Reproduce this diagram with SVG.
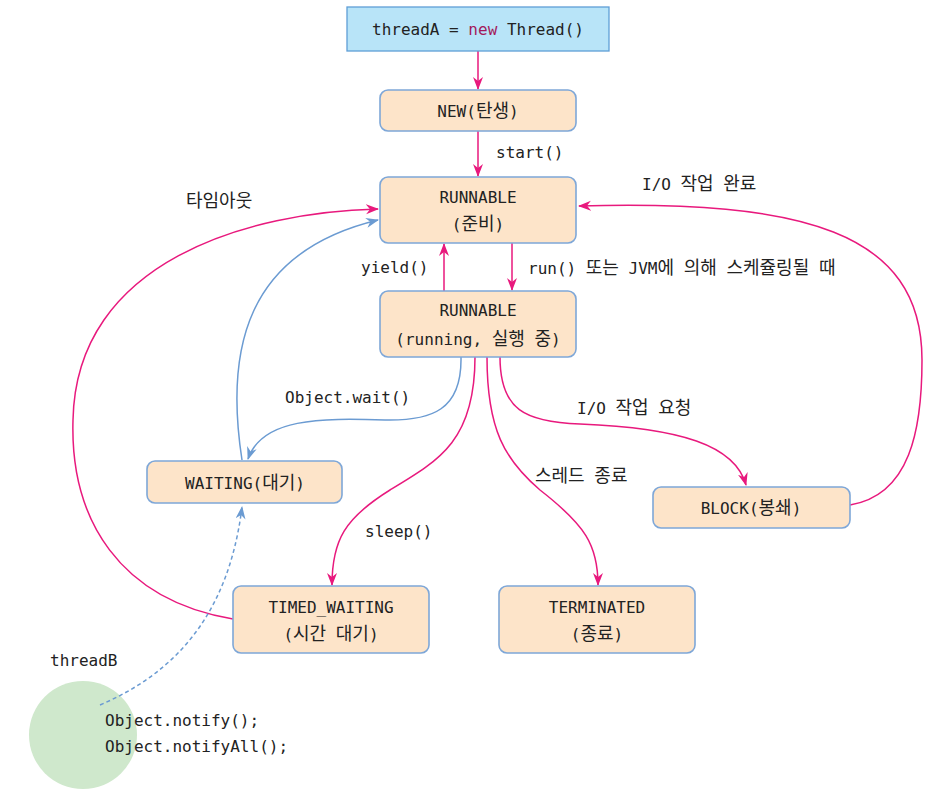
<svg xmlns="http://www.w3.org/2000/svg" width="944" height="799" viewBox="0 0 944 799">
<defs>
<style>
.box{fill:#fde4c9;stroke:#7ea7d8;stroke-width:1.6}
.t{font-family:"DejaVu Sans Mono","Noto Sans CJK KR",monospace;font-size:16px;fill:#222}
.k{font-family:"Noto Sans CJK KR",sans-serif;font-size:18px}
.c{text-anchor:middle}
.p{fill:none;stroke:#e8197d;stroke-width:1.5}
.b{fill:none;stroke:#6b9bd2;stroke-width:1.5}
.d{fill:none;stroke:#6b9bd2;stroke-width:1.5;stroke-dasharray:4 3}
</style>
<marker id="ap" markerUnits="userSpaceOnUse" markerWidth="14" markerHeight="12" refX="12" refY="5" orient="auto">
<path d="M0,0 L13,5 L0,10 L4,5 z" fill="#e8197d"/>
</marker>
<marker id="ab" markerUnits="userSpaceOnUse" markerWidth="14" markerHeight="12" refX="12" refY="5" orient="auto">
<path d="M0,0 L13,5 L0,10 L4,5 z" fill="#6b9bd2"/>
</marker>
</defs>
<rect width="944" height="799" fill="#ffffff"/>

<g id="threadB">
<circle cx="83" cy="735" r="54" fill="#cfe8cc"/>
<text class="t" x="50" y="666">threadB</text>
<text class="t" x="105" y="726">Object.notify();</text>
<text class="t" x="105" y="752">Object.notifyAll();</text>
</g>

<g id="connectors">
<path class="p" d="M478,51 L478,89" marker-end="url(#ap)"/>
<path class="p" d="M478,131 L478,176" marker-end="url(#ap)"/>
<path class="p" d="M444,291 L444,244" marker-end="url(#ap)"/>
<path class="p" d="M512,243 L512,290" marker-end="url(#ap)"/>
<path class="b" d="M461,357 C462,410 432,421 385,420 C320,418 262,418 248,459" marker-end="url(#ab)"/>
<path class="b" d="M242,460 C225,350 245,252 378,220" marker-end="url(#ab)"/>
<path class="p" d="M233,619 C120,600 70,520 73,420 C76,260 250,212 378,209" marker-end="url(#ap)"/>
<path class="p" d="M475,357 C475,440 440,460 390,490 C345,518 332,540 332,585" marker-end="url(#ap)"/>
<path class="p" d="M487,357 C487,430 505,460 540,490 C585,525 598,545 598,585" marker-end="url(#ap)"/>
<path class="p" d="M500,357 C500,410 525,422 580,424 C680,428 735,445 746,485" marker-end="url(#ap)"/>
<path class="p" d="M850,505 C910,495 922,430 922,360 C922,230 800,200 579,206" marker-end="url(#ap)"/>
<path class="d" d="M100,705 C170,675 228,620 242,507" marker-end="url(#ab)"/>
</g>

<g id="labels">
<text class="t" x="496" y="158">start()</text>
<text class="t" x="361" y="273">yield()</text>
<text class="t" x="528" y="274">run() <tspan class="k">또는</tspan> JVM<tspan class="k">에</tspan> <tspan class="k">의해</tspan> <tspan class="k">스케쥴링될</tspan> <tspan class="k">때</tspan></text>
<text class="t" x="642" y="190">I/O <tspan class="k">작업</tspan> <tspan class="k">완료</tspan></text>
<text class="t" x="577" y="414">I/O <tspan class="k">작업</tspan> <tspan class="k">요청</tspan></text>
<text class="t" x="535" y="482"><tspan class="k">스레드</tspan> <tspan class="k">종료</tspan></text>
<text class="t" x="285" y="403">Object.wait()</text>
<text class="t" x="365" y="537">sleep()</text>
<text class="t k" x="186" y="207">타임아웃</text>
</g>

<g id="threadA">
<rect x="347" y="7" width="262" height="44" fill="#b8e4f8" stroke="#5f9ed6" stroke-width="1.3"/>
<text class="t c" x="478" y="35">threadA = <tspan fill="#a3195b">new</tspan> Thread()</text>
</g>
<g id="new">
<rect class="box" x="380" y="90" width="196" height="41" rx="8"/>
<text class="t c" x="478" y="117">NEW(<tspan class="k">탄생</tspan>)</text>
</g>
<g id="runnable-ready">
<rect class="box" x="380" y="177" width="196" height="66" rx="8"/>
<text class="t c" x="478" y="203">RUNNABLE</text>
<text class="t c" x="478" y="230">(<tspan class="k">준비</tspan>)</text>
</g>
<g id="runnable-running">
<rect class="box" x="380" y="291" width="196" height="66" rx="8"/>
<text class="t c" x="478" y="316">RUNNABLE</text>
<text class="t c" x="478" y="345">(running, <tspan class="k">실행</tspan> <tspan class="k">중</tspan>)</text>
</g>
<g id="waiting">
<rect class="box" x="147" y="461" width="195" height="42" rx="8"/>
<text class="t c" x="245" y="489">WAITING(<tspan class="k">대기</tspan>)</text>
</g>
<g id="timed-waiting">
<rect class="box" x="233" y="586" width="196" height="67" rx="8"/>
<text class="t c" x="331" y="613">TIMED_WAITING</text>
<text class="t c" x="331" y="640">(<tspan class="k">시간</tspan> <tspan class="k">대기</tspan>)</text>
</g>
<g id="terminated">
<rect class="box" x="499" y="586" width="196" height="67" rx="8"/>
<text class="t c" x="597" y="613">TERMINATED</text>
<text class="t c" x="597" y="640">(<tspan class="k">종료</tspan>)</text>
</g>
<g id="block">
<rect class="box" x="653" y="487" width="197" height="41" rx="8"/>
<text class="t c" x="751" y="514">BLOCK(<tspan class="k">봉쇄</tspan>)</text>
</g>
</svg>
